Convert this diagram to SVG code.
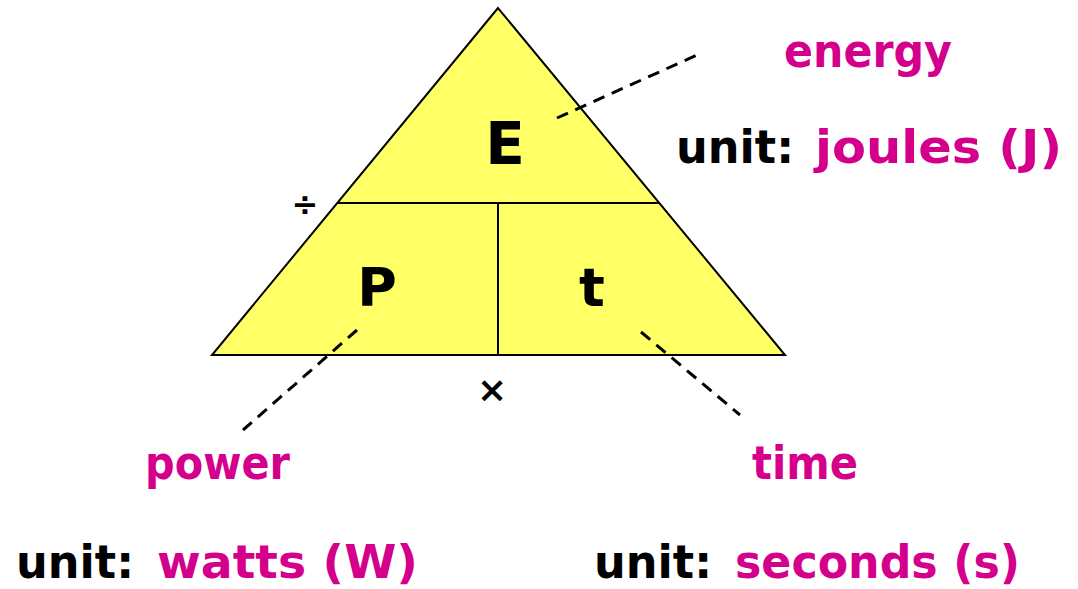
<svg xmlns="http://www.w3.org/2000/svg" width="1078" height="589" viewBox="0 0 1078 589">
<style>
.t{font-family:"DejaVu Sans","Noto Sans",sans-serif;font-weight:bold}
.m{fill:#D4008C}
.k{fill:#000}
.d{stroke:#000;stroke-width:3;stroke-dasharray:12 8;fill:none}
</style>
<rect width="1078" height="589" fill="#fff"/>
<g id="triangle">
<polygon points="498,8 212,355 785,355" fill="#FFFF66" stroke="#000" stroke-width="2"/>
<line x1="338" y1="203" x2="659" y2="203" stroke="#000" stroke-width="2"/>
<line x1="498" y1="203" x2="498" y2="355" stroke="#000" stroke-width="2"/>
</g>
<g id="labels-inner">
<text class="t k" x="505" y="164" font-size="58" text-anchor="middle">E</text>
<text class="t k" x="377" y="306" font-size="54" text-anchor="middle">P</text>
<text class="t k" x="592" y="306" font-size="54" text-anchor="middle">t</text>
<text class="t k" x="305" y="215" font-size="32" text-anchor="middle">÷</text>
<text class="t k" x="492" y="402" font-size="36" text-anchor="middle">×</text>
</g>
<g id="connectors">
<line class="d" x1="557" y1="118" x2="697" y2="55"/>
<line class="d" x1="357" y1="330" x2="243" y2="430"/>
<line class="d" x1="641" y1="332" x2="740" y2="415"/>
</g>
<g id="energy">
<text class="t m" x="784" y="67" font-size="47" textLength="168" lengthAdjust="spacingAndGlyphs">energy</text>
<text class="t k" x="676" y="163" font-size="47" textLength="118" lengthAdjust="spacingAndGlyphs">unit:</text>
<text class="t m" x="815" y="163" font-size="47" textLength="247" lengthAdjust="spacingAndGlyphs">joules (J)</text>
</g>
<g id="power">
<text class="t m" x="145" y="479" font-size="47" textLength="145" lengthAdjust="spacingAndGlyphs">power</text>
<text class="t k" x="16" y="578" font-size="47" textLength="118" lengthAdjust="spacingAndGlyphs">unit:</text>
<text class="t m" x="157" y="578" font-size="47" textLength="261" lengthAdjust="spacingAndGlyphs">watts (W)</text>
</g>
<g id="time">
<text class="t m" x="752" y="479" font-size="47" textLength="106" lengthAdjust="spacingAndGlyphs">time</text>
<text class="t k" x="594" y="578" font-size="47" textLength="118" lengthAdjust="spacingAndGlyphs">unit:</text>
<text class="t m" x="735" y="578" font-size="47" textLength="285" lengthAdjust="spacingAndGlyphs">seconds (s)</text>
</g>
</svg>
